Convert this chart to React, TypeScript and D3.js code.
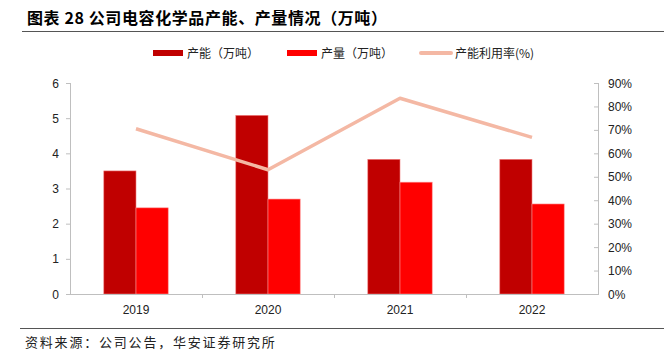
import React from 'react';
import * as d3 from 'd3';

const years = ['2019', '2020', '2021', '2022'];
const capacity = [3.5, 5.08, 3.83, 3.83];
const output = [2.45, 2.7, 3.18, 2.56];
const utilization = [70.5, 53, 83.5, 66.8];
const leftTicks = [0, 1, 2, 3, 4, 5, 6];
const rightTicks = [0, 10, 20, 30, 40, 50, 60, 70, 80, 90];

const W = 664;
const H = 363;
const margin = { top: 83, right: 66, bottom: 69, left: 70 };

const CJK = '"Noto Sans CJK SC", sans-serif';
const LATIN = '"Liberation Sans", Arial, sans-serif';
const AXIS = '#bfbfbf';

const App: React.FC = () => {
  const x0 = margin.left;
  const x1 = W - margin.right;
  const yTop = margin.top;
  const yBot = H - margin.bottom;

  const x = d3.scaleBand<string>().domain(years).range([x0, x1]).padding(0);
  const xInner = d3.scaleBand<string>().domain(['cap', 'out']).range([0, x.bandwidth()]).paddingOuter(1.05).paddingInner(0);
  const yL = d3.scaleLinear().domain([0, 6]).range([yBot, yTop]);
  const yR = d3.scaleLinear().domain([0, 90]).range([yBot, yTop]);

  const line = d3
    .line<number>()
    .x((_, i) => (x(years[i]) as number) + x.bandwidth() / 2)
    .y((d) => yR(d));

  return (
    <svg width={W} height={H} style={{ position: 'absolute', left: 0, top: 0, background: '#fff' }}>
      {/* title */}
      <text x={27} y={24} fontFamily={CJK} fontWeight="bold" fontSize={16} letterSpacing={0.6} fill="#000">
        图表 28 公司电容化学品产能、产量情况（万吨）
      </text>
      <line x1={22} x2={W} y1={31.5} y2={31.5} stroke="#555" strokeWidth={1.2} />

      {/* legend */}
      <g fontFamily={CJK} fontSize={12} fill="#222">
        <rect x={153} y={50} width={30} height={6} fill="#c00000" />
        <text x={187} y={58}>产能（万吨）</text>
        <rect x={287} y={50} width={30} height={6} fill="#ff0000" />
        <text x={321} y={58}>产量（万吨）</text>
        <line x1={421} x2={451} y1={53} y2={53} stroke="#f4b8a4" strokeWidth={4} strokeLinecap="round" />
        <text x={455} y={58}>产能利用率(%)</text>
      </g>

      {/* bars */}
      {years.map((yr, i) => {
        const bx = x(yr) as number;
        return (
          <g key={yr}>
            <rect
              x={bx + (xInner('cap') as number)}
              y={yL(capacity[i])}
              width={xInner.bandwidth()}
              height={yBot - yL(capacity[i])}
              fill="#c00000"
              stroke="#f08080"
              strokeWidth={0.6}
            />
            <rect
              x={bx + (xInner('out') as number)}
              y={yL(output[i])}
              width={xInner.bandwidth()}
              height={yBot - yL(output[i])}
              fill="#ff0000"
              stroke="#ff9090"
              strokeWidth={0.6}
            />
          </g>
        );
      })}

      {/* line */}
      <path d={line(utilization) || ''} fill="none" stroke="#f4b8a4" strokeWidth={3.5} strokeLinejoin="round" />

      {/* axes */}
      <line x1={x0} x2={x1} y1={yBot + 0.5} y2={yBot + 0.5} stroke={AXIS} />
      {years.slice(1).map((yr) => (
        <line key={yr} x1={(x(yr) as number) + 0.5} x2={(x(yr) as number) + 0.5} y1={yBot} y2={yBot + 4} stroke={AXIS} />
      ))}
      <line x1={x0 + 0.5} x2={x0 + 0.5} y1={yTop} y2={yBot + 1} stroke={AXIS} />
      {leftTicks.map((t) => (
        <g key={t}>
          <line x1={x0 - 4} x2={x0} y1={yL(t) + 0.5} y2={yL(t) + 0.5} stroke={AXIS} />
          <text x={x0 - 11} y={yL(t) + 4.5} textAnchor="end" fontFamily={LATIN} fontSize={12} fill="#222">
            {t}
          </text>
        </g>
      ))}
      <line x1={x1 + 0.5} x2={x1 + 0.5} y1={yTop} y2={yBot + 1} stroke={AXIS} />
      {rightTicks.map((t) => (
        <g key={t}>
          <line x1={x1 - 4} x2={x1} y1={yR(t) + 0.5} y2={yR(t) + 0.5} stroke={AXIS} />
          <text x={x1 + 10} y={yR(t) + 4.5} fontFamily={LATIN} fontSize={12} fill="#222">
            {t}%
          </text>
        </g>
      ))}
      {years.map((yr) => (
        <text
          key={yr}
          x={(x(yr) as number) + x.bandwidth() / 2}
          y={314}
          textAnchor="middle"
          fontFamily={LATIN}
          fontSize={12}
          fill="#222"
        >
          {yr}
        </text>
      ))}

      {/* footer */}
      <line x1={20} x2={W} y1={328.5} y2={328.5} stroke="#555" strokeWidth={1.2} />
      <text x={25} y={347} fontFamily={CJK} fontSize={13} letterSpacing={1.8} fill="#222">
        资料来源：公司公告，华安证券研究所
      </text>
    </svg>
  );
};

export default App;
